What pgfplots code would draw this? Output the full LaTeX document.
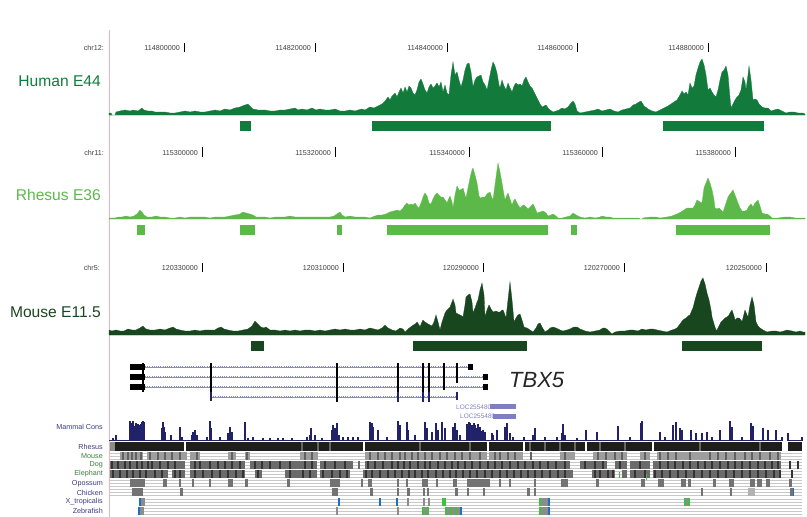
\documentclass[border=0pt]{standalone}
\usepackage{pgfplots}
\pgfplotsset{compat=1.18}
\usepackage{fontspec}
\setmainfont{Liberation Sans}
\definecolor{hum}{HTML}{127B3C}
\definecolor{rhe}{HTML}{5CB949}
\definecolor{mou}{HTML}{18461F}
\definecolor{navy}{HTML}{22226B}
\definecolor{lbl}{HTML}{3A3A80}
\definecolor{glbl}{HTML}{3C7F3C}
\definecolor{gline}{HTML}{8A8AC8}
\definecolor{locbox}{HTML}{8080C0}
\definecolor{pinkl}{HTML}{F0B4B4}
\definecolor{rowline}{HTML}{C8C8C8}
\definecolor{midg}{HTML}{8C8C8C}
\definecolor{darkg}{HTML}{333333}
\definecolor{blk}{HTML}{1E1E1E}
\definecolor{bluem}{HTML}{1F6FC0}
\definecolor{greenm}{HTML}{3FBF3F}
\begin{document}
\begin{tikzpicture}
\useasboundingbox (0,0) rectangle (807pt,517pt);
\begin{axis}[at={(0,0)}, anchor=south west, scale only axis, width=807pt, height=517pt,
  xmin=0, xmax=807, ymin=0, ymax=517, y dir=reverse,
  hide axis, clip=false, unbounded coords=jump]

% pink separator
\addplot[pinkl, line width=1pt] coordinates {(109,30)(109,517)};

% ---------- rulers ----------
\addplot[black, line width=1pt] coordinates {(184,43)(184,52)(184,nan)(315,43)(315,52)(315,nan)(447,43)(447,52)(447,nan)(577,43)(577,52)(577,nan)(708,43)(708,52)};
\addplot[black, line width=1pt] coordinates {(202,147)(202,157)(202,nan)(335,147)(335,157)(335,nan)(469,147)(469,157)(469,nan)(602,147)(602,157)(602,nan)(735,147)(735,157)};
\addplot[black, line width=1pt] coordinates {(202,263)(202,272)(202,nan)(343,263)(343,272)(343,nan)(483,263)(483,272)(483,nan)(624,263)(624,272)(624,nan)(766,263)(766,272)};

\begin{scope}[every node/.style={inner sep=0pt, anchor=east, font=\fontsize{7.2}{8}\selectfont, text=black!75}]
\node at (104,48) {chr12:};
\node at (180,48) {114800000};
\node at (311,48) {114820000};
\node at (443,48) {114840000};
\node at (573,48) {114860000};
\node at (704,48) {114880000};
\node at (104,153) {chr11:};
\node at (198,153) {115300000};
\node at (331,153) {115320000};
\node at (465,153) {115340000};
\node at (598,153) {115360000};
\node at (731,153) {115380000};
\node at (100,268) {chr5:};
\node at (198,268) {120330000};
\node at (339,268) {120310000};
\node at (479,268) {120290000};
\node at (620,268) {120270000};
\node at (762,268) {120250000};
\end{scope}

% ---------- track labels ----------
\begin{scope}[every node/.style={inner sep=0pt, anchor=east, font=\fontsize{15.6}{17}\selectfont}]
\node[text=hum] at (101,81) {Human E44};
\node[text=rhe] at (101,195) {Rhesus E36};
\node[text=mou] at (101,312) {Mouse E11.5};
\end{scope}

% ---------- Human E44 signal ----------
\addplot[fill=hum, draw=hum, line width=0.3pt] coordinates {
(109,115)(109,113)(111,113)(112,115)(115,115)(116,112)(120,111)(125,110)(130,111)(133,110)(138,111)(142,108)(144,110)(148,111)(152,111)(155,112)(160,112)(165,112)(170,113)(175,113)(180,112)(185,111)(190,112)(195,111)(200,112)(205,112)(210,111)(215,110)(220,111)(225,109)(230,110)(235,108)(240,107)(245,105)(248,104)(250,106)(253,109)(258,110)(265,110)(270,111)(275,111)(280,110)(285,110)(290,109)(295,108)(298,110)(302,109)(307,110)(312,108)(316,110)(320,109)(325,110)(330,110)(335,109)(340,111)(345,111)(350,110)(355,111)(358,110)(362,109)(365,110)(370,107)(374,108)(378,106)(382,104)(385,101)(388,97)(390,100)(392,96)(395,93)(397,97)(399,92)(401,88)(403,93)(405,87)(407,92)(409,86)(411,88)(413,93)(415,95)(417,90)(419,82)(421,79)(423,84)(425,90)(427,93)(429,87)(431,84)(433,88)(435,86)(437,83)(439,87)(441,82)(443,92)(445,85)(447,93)(449,95)(451,75)(453,62)(455,75)(457,72)(459,80)(461,87)(463,80)(465,70)(467,64)(469,63)(471,72)(473,87)(475,80)(477,77)(479,76)(481,75)(483,82)(485,85)(487,90)(489,80)(491,70)(493,62)(495,66)(497,73)(499,85)(500,88)(502,80)(504,86)(506,90)(508,83)(510,88)(512,92)(514,86)(516,83)(518,85)(520,84)(522,86)(524,80)(526,77)(528,82)(530,86)(532,88)(534,92)(536,96)(538,100)(540,104)(542,107)(544,106)(546,105)(548,108)(550,110)(553,112)(556,111)(559,110)(562,108)(565,109)(568,107)(571,103)(573,101)(575,104)(577,111)(580,113)(585,112)(590,111)(595,110)(598,109)(602,111)(606,110)(610,109)(614,111)(618,112)(622,110)(626,109)(630,108)(633,105)(636,104)(639,102)(641,101)(644,106)(648,109)(652,111)(656,112)(660,110)(664,108)(668,106)(671,104)(674,102)(677,100)(680,95)(682,91)(684,94)(686,92)(688,95)(690,83)(692,88)(694,86)(696,75)(698,68)(700,62)(702,59)(704,65)(706,75)(708,90)(710,88)(712,92)(714,95)(716,97)(718,90)(720,80)(722,72)(724,70)(726,66)(728,75)(730,98)(731,108)(733,104)(735,100)(737,97)(739,95)(741,90)(743,77)(745,82)(746,90)(748,75)(749,66)(751,80)(753,100)(755,99)(757,100)(759,104)(762,107)(765,108)(768,108)(771,111)(774,110)(778,109)(782,111)(786,113)(790,112)(794,112)(798,113)(803,113)(805,114)(805,115)} -- cycle;

\addplot[hum, line width=10pt] coordinates {(240,126)(251,126)(251,nan)(372,126)(551,126)(551,nan)(663,126)(764,126)};

% ---------- Rhesus E36 signal ----------
\addplot[fill=rhe, draw=rhe, line width=0.3pt] coordinates {
(109,219)(109,218)(115,218)(118,217)(122,217)(126,216)(130,217)(134,216)(137,214)(140,210)(142,212)(144,215)(147,217)(152,217)(156,216)(160,217)(165,217)(170,218)(175,218)(180,217)(185,218)(190,217)(195,217)(200,217)(205,217)(210,218)(215,217)(220,217)(225,217)(230,216)(235,215)(240,214)(243,212)(246,213)(250,214)(253,215)(256,217)(260,217)(265,217)(270,218)(275,217)(280,217)(285,217)(290,216)(295,217)(300,217)(305,217)(310,217)(315,217)(320,217)(325,217)(330,217)(334,216)(337,214)(340,212)(342,215)(345,217)(350,216)(355,217)(360,217)(365,217)(370,218)(375,216)(378,215)(382,215)(386,214)(390,212)(394,211)(397,210)(400,211)(403,208)(405,205)(407,203)(409,205)(411,204)(413,205)(415,203)(417,206)(419,208)(421,203)(423,197)(425,193)(427,196)(429,203)(431,204)(433,199)(435,195)(437,193)(439,195)(441,197)(443,197)(445,200)(447,203)(449,198)(450,196)(452,202)(453,208)(455,195)(457,186)(459,190)(460,190)(462,189)(463,188)(465,195)(466,198)(468,188)(470,178)(472,170)(473,168)(475,175)(477,183)(479,196)(480,198)(483,197)(485,197)(487,194)(490,192)(492,198)(493,200)(495,185)(497,170)(498,163)(500,172)(502,183)(504,195)(505,200)(507,195)(508,193)(510,199)(512,205)(514,200)(515,199)(517,203)(520,208)(522,206)(524,205)(526,207)(528,209)(531,206)(533,204)(535,208)(537,213)(540,212)(543,211)(546,213)(548,216)(551,215)(553,214)(556,216)(558,218)(562,218)(566,217)(570,216)(573,213)(576,215)(580,217)(585,218)(590,217)(595,218)(600,217)(602,216)(606,217)(610,217)(613,218)(620,218)(630,218)(639,218)(640,219)(642,219)(643,218)(650,217)(656,217)(660,218)(667,217)(672,216)(677,214)(681,212)(684,210)(687,208)(690,208)(693,208)(695,205)(697,200)(700,202)(702,203)(704,188)(706,183)(708,178)(710,183)(712,190)(714,200)(715,208)(717,209)(719,208)(721,210)(723,212)(725,206)(728,197)(730,194)(733,190)(735,195)(738,203)(740,208)(742,211)(745,211)(747,210)(749,206)(751,204)(753,207)(755,203)(758,200)(760,206)(762,213)(765,214)(767,214)(770,216)(772,218)(778,218)(785,217)(790,217)(795,218)(800,218)(805,218)(805,219)} -- cycle;

\addplot[rhe, line width=10pt] coordinates {(137,230)(145,230)(145,nan)(240,230)(255,230)(255,nan)(337,230)(342,230)(342,nan)(387,230)(548,230)(548,nan)(571,230)(577,230)(577,nan)(676,230)(770,230)};

% ---------- Mouse E11.5 signal ----------
\addplot[fill=mou, draw=mou, line width=0.3pt] coordinates {
(109,335)(109,330)(112,331)(116,330)(120,331)(124,331)(128,329)(132,330)(136,330)(140,328)(143,326)(146,329)(150,330)(155,330)(160,329)(165,330)(170,328)(173,327)(176,329)(180,330)(185,331)(190,331)(195,330)(200,331)(205,330)(210,330)(215,330)(218,328)(221,327)(224,329)(228,330)(233,331)(238,331)(243,330)(248,329)(252,326)(255,321)(258,324)(261,327)(264,328)(266,327)(270,330)(275,330)(280,331)(285,330)(290,331)(295,330)(300,331)(305,330)(310,330)(315,331)(320,330)(325,331)(330,330)(335,329)(340,330)(345,329)(350,330)(355,330)(360,329)(365,330)(370,328)(374,329)(378,330)(382,328)(385,325)(388,328)(392,330)(396,331)(400,328)(403,329)(405,332)(408,329)(412,326)(415,324)(417,322)(419,325)(420,327)(422,322)(423,320)(425,322)(428,324)(430,325)(432,326)(434,322)(436,315)(438,322)(440,330)(442,322)(445,313)(447,310)(450,307)(452,302)(453,299)(455,305)(456,313)(458,314)(460,315)(462,316)(463,317)(465,305)(466,297)(468,295)(470,294)(472,302)(473,313)(475,308)(477,302)(478,300)(480,290)(482,283)(484,295)(485,317)(487,310)(489,305)(491,309)(493,312)(496,311)(498,312)(500,312)(502,310)(503,310)(505,315)(506,318)(508,300)(510,282)(512,300)(514,322)(516,318)(518,315)(520,314)(522,320)(524,327)(527,328)(530,330)(533,332)(536,328)(538,324)(540,323)(542,327)(545,332)(548,330)(550,328)(553,327)(556,328)(560,330)(563,331)(567,330)(570,329)(574,327)(577,327)(580,329)(585,331)(590,332)(595,331)(600,330)(603,328)(605,328)(608,330)(612,334)(615,332)(620,331)(625,331)(630,330)(633,330)(638,331)(642,329)(646,330)(650,329)(653,329)(657,330)(662,331)(667,332)(672,330)(675,329)(677,328)(680,324)(683,320)(686,318)(688,316)(690,315)(692,310)(693,308)(695,300)(697,293)(699,287)(701,281)(703,278)(705,284)(707,293)(709,300)(711,310)(712,317)(714,324)(716,330)(717,330)(719,326)(721,322)(723,320)(725,318)(727,317)(729,315)(730,313)(732,310)(734,316)(735,320)(737,318)(739,318)(741,320)(742,322)(744,314)(745,310)(747,315)(748,317)(750,305)(752,297)(754,305)(756,322)(758,326)(760,328)(763,330)(767,332)(772,331)(776,331)(780,332)(784,331)(787,330)(792,331)(796,332)(800,331)(803,332)(805,332)(805,335)} -- cycle;

\addplot[mou, line width=10pt] coordinates {(251,346)(264,346)(264,nan)(413,346)(527,346)(527,nan)(682,346)(762,346)};

% ---------- TBX5 gene ----------
\addplot[gline, line width=0.7pt] coordinates {(145,367)(470,367)(470,nan)(145,377)(485,377)(485,nan)(145,387)(485,387)(485,nan)(211,397)(458,397)};
\addplot[gline, line width=2pt, dash pattern=on 0.7pt off 1.5pt] coordinates {(145,367)(470,367)(470,nan)(145,377)(485,377)(485,nan)(145,387)(485,387)(485,nan)(211,397)(458,397)};
\addplot[black, line width=6pt] coordinates {(130,367)(145,367)(145,nan)(130,377)(145,377)(145,nan)(130,387)(145,387)(145,nan)(468,367)(473,367)(473,nan)(483,377)(488,377)(488,nan)(483,387)(488,387)};
\addplot[black, line width=2.5pt] coordinates {(143,363)(143,392)};
\addplot[black, line width=1.2pt] coordinates {(211,363)(211,392)(211,nan)(337,363)(337,402)(337,nan)(423,363)(423,392)(423,nan)(444,363)(444,390)};
\addplot[black, line width=2pt] coordinates {(398,363)(398,392)(398,nan)(429,363)(429,392)(429,nan)(457,363)(457,383)};
\addplot[navy, line width=2pt] coordinates {(211,392)(211,401)(211,nan)(398,392)(398,402)(398,nan)(423,392)(423,402)(423,nan)(429,392)(429,402)(429,nan)(457,392)(457,400)};
\node[inner sep=0pt, anchor=west, font=\fontsize{22}{24}\selectfont\itshape, text=black!85] at (509,380) {TBX5};

% LOC255480
\addplot[locbox, line width=5pt] coordinates {(490,406.8)(516,406.8)(516,nan)(493,416.5)(516,416.5)};
\begin{scope}[every node/.style={inner sep=0pt, anchor=west, font=\fontsize{6.5}{7}\selectfont, text=locbox}]
\node at (456,407) {LOC255480};
\node at (460,416.5) {LOC255480};
\end{scope}

% ---------- labels of conservation ----------
\begin{scope}[every node/.style={inner sep=0pt, anchor=east, font=\fontsize{7.2}{8}\selectfont}]
\node[text=lbl] at (103,427) {Mammal Cons};
\node[text=lbl] at (103,447) {Rhesus};
\node[text=glbl] at (103,456) {Mouse};
\node[text=glbl] at (103,465) {Dog};
\node[text=glbl] at (103,474) {Elephant};
\node[text=lbl] at (103,484) {Opossum};
\node[text=lbl] at (103,493) {Chicken};
\node[text=lbl] at (103,502) {X\_tropicalis};
\node[text=lbl] at (103,511) {Zebrafish};
\end{scope}

% ---------- Mammal Cons ----------
\addplot[navy, line width=1pt] coordinates {(109,440)(783,440)(783,nan)(787,440)(803,440)};
\addplot[navy, line width=1.1pt] coordinates {
(113,440)(113,438)(113,nan)(116,440)(116,435)(116,nan)(130,440)(130,421)(130,nan)(131,440)(131,423)(131,nan)(132,440)(132,425)(132,nan)(133,440)(133,421)(133,nan)(134,440)(134,428)(134,nan)(135,440)(135,426)(135,nan)(136,440)(136,423)(136,nan)(137,440)(137,430)(137,nan)(138,440)(138,424)(138,nan)(139,440)(139,425)(139,nan)(140,440)(140,428)(140,nan)(141,440)(141,424)(141,nan)(142,440)(142,422)(142,nan)(143,440)(143,421)(143,nan)(144,440)(144,422)(144,nan)
(162,440)(162,428)(162,nan)(163,440)(163,422)(163,nan)(164,440)(164,427)(164,nan)(165,440)(165,432)(165,nan)(171,440)(171,435)(171,nan)(180,440)(180,427)(180,nan)(182,440)(182,437)(182,nan)(192,440)(192,435)(192,nan)(193,440)(193,432)(193,nan)(195,440)(195,430)(195,nan)(197,440)(197,435)(197,nan)(207,440)(207,437)(207,nan)(210,440)(210,421)(210,nan)(211,440)(211,428)(211,nan)(220,440)(220,437)(220,nan)(228,440)(228,433)(228,nan)(230,440)(230,427)(230,nan)(232,440)(232,432)(232,nan)(245,440)(245,422)(245,nan)(248,440)(248,438)(248,nan)(253,440)(253,437)(253,nan)(263,440)(263,438)(263,nan)(270,440)(270,438)(270,nan)(278,440)(278,438)(278,nan)(283,440)(283,438)(283,nan)(292,440)(292,438)(292,nan)
(307,440)(307,437)(307,nan)(310,440)(310,435)(310,nan)(311,440)(311,428)(311,nan)(315,440)(315,435)(315,nan)(322,440)(322,438)(322,nan)(332,440)(332,430)(332,nan)(333,440)(333,425)(333,nan)(335,440)(335,428)(335,nan)(337,440)(337,423)(337,nan)(339,440)(339,435)(339,nan)(343,440)(343,437)(343,nan)(348,440)(348,437)(348,nan)(353,440)(353,437)(353,nan)(358,440)(358,437)(358,nan)(370,440)(370,422)(370,nan)(372,440)(372,423)(372,nan)(373,440)(373,427)(373,nan)(378,440)(378,430)(378,nan)(387,440)(387,437)(387,nan)(398,440)(398,421)(398,nan)(400,440)(400,425)(400,nan)(407,440)(407,422)(407,nan)(408,440)(408,430)(408,nan)(415,440)(415,435)(415,nan)(425,440)(425,422)(425,nan)(427,440)(427,428)(427,nan)(432,440)(432,432)(432,nan)(436,440)(436,423)(436,nan)(438,440)(438,430)(438,nan)(442,440)(442,422)(442,nan)(445,440)(445,428)(445,nan)(453,440)(453,427)(453,nan)(455,440)(455,423)(455,nan)(457,440)(457,430)(457,nan)(460,440)(460,435)(460,nan)
(467,440)(467,424)(467,nan)(468,440)(468,427)(468,nan)(469,440)(469,422)(469,nan)(470,440)(470,423)(470,nan)(471,440)(471,426)(471,nan)(472,440)(472,425)(472,nan)(473,440)(473,428)(473,nan)(474,440)(474,423)(474,nan)(475,440)(475,425)(475,nan)(476,440)(476,430)(476,nan)(477,440)(477,428)(477,nan)(478,440)(478,424)(478,nan)(480,440)(480,427)(480,nan)(482,440)(482,431)(482,nan)(483,440)(483,430)(483,nan)(485,440)(485,432)(485,nan)(492,440)(492,433)(492,nan)(493,440)(493,435)(493,nan)(497,440)(497,430)(497,nan)(505,440)(505,427)(505,nan)(507,440)(507,423)(507,nan)(510,440)(510,433)(510,nan)(513,440)(513,437)(513,nan)(524,440)(524,437)(524,nan)(533,440)(533,435)(533,nan)(535,440)(535,428)(535,nan)(545,440)(545,437)(545,nan)(557,440)(557,437)(557,nan)(562,440)(562,433)(562,nan)(563,440)(563,424)(563,nan)(565,440)(565,435)(565,nan)(577,440)(577,438)(577,nan)(586,440)(586,430)(586,nan)(597,440)(597,432)(597,nan)
(618,440)(618,426)(618,nan)(630,440)(630,437)(630,nan)(641,440)(641,423)(641,nan)(642,440)(642,421)(642,nan)(660,440)(660,432)(660,nan)(665,440)(665,437)(665,nan)(673,440)(673,425)(673,nan)(676,440)(676,422)(676,nan)(680,440)(680,428)(680,nan)(682,440)(682,430)(682,nan)(691,440)(691,430)(691,nan)(696,440)(696,433)(696,nan)(702,440)(702,433)(702,nan)(707,440)(707,432)(707,nan)(712,440)(712,437)(712,nan)(720,440)(720,430)(720,nan)(730,440)(730,421)(730,nan)(732,440)(732,427)(732,nan)(742,440)(742,437)(742,nan)(751,440)(751,423)(751,nan)(753,440)(753,426)(753,nan)(763,440)(763,428)(763,nan)(768,440)(768,430)(768,nan)(776,440)(776,430)(776,nan)(782,440)(782,437)(782,nan)(788,440)(788,433)(788,nan)(802,440)(802,437)};

% ---------- conservation rows: background lines ----------
\addplot[rowline, line width=0.6pt] coordinates {
(110,453)(802,453)(802,nan)(110,456)(802,456)(802,nan)(110,459)(802,459)(802,nan)
(110,462)(802,462)(802,nan)(110,465)(802,465)(802,nan)(110,468)(802,468)(802,nan)
(110,471)(802,471)(802,nan)(110,474)(802,474)(802,nan)(110,477)(802,477)(802,nan)
(110,480)(802,480)(802,nan)(110,483)(802,483)(802,nan)(110,486)(802,486)(802,nan)
(110,489)(802,489)(802,nan)(110,492)(802,492)(802,nan)(110,495)(802,495)(802,nan)
(140,499)(802,499)(802,nan)(140,502)(802,502)(802,nan)(140,505)(802,505)(802,nan)
(139,508)(802,508)(802,nan)(139,511)(802,511)(802,nan)(139,514)(802,514)};

% Rhesus row
\addplot[midg, line width=9pt] coordinates {(110,446.5)(115,446.5)};
\addplot[blk, line width=9pt] coordinates {(115,446.5)(184,446.5)(184,nan)(186,446.5)(363,446.5)(363,nan)(365,446.5)(487,446.5)(487,nan)(489,446.5)(523,446.5)(523,nan)(525,446.5)(585,446.5)(585,nan)(587,446.5)(652,446.5)(652,nan)(654,446.5)(782,446.5)(782,nan)(788,446.5)(802,446.5)};
\addplot[only marks, mark=|, mark size=4.5pt, mark options={line width=1.2pt, color=black!60}] coordinates {(302,446.5)(318,446.5)(330,446.5)(420,446.5)(470,446.5)(530,446.5)(545,446.5)(560,446.5)(575,446.5)(600,446.5)(625,446.5)(700,446.5)(760,446.5)};

% Mouse row
\addplot[black!38, line width=8pt] coordinates {(120,456)(143,456)(143,nan)(147,456)(187,456)(187,nan)(190,456)(200,456)(200,nan)(228,456)(236,456)(236,nan)(245,456)(250,456)(250,nan)(300,456)(318,456)(318,nan)(365,456)(487,456)(487,nan)(489,456)(523,456)(523,nan)(560,456)(575,456)(575,nan)(593,456)(627,456)(627,nan)(640,456)(650,456)(650,nan)(657,456)(781,456)};
\addplot[only marks, mark=|, mark size=4pt, mark options={line width=1.1pt, color=black!62}] coordinates {(123,456)(128,456)(132,456)(136,456)(141,456)(150,456)(158,456)(165,456)(172,456)(180,456)(197,456)(232,456)(247,456)(305,456)(312,456)(370,456)(378,456)(385,456)(392,456)(400,456)(405,456)(412,456)(418,456)(425,456)(432,456)(440,456)(447,456)(455,456)(462,456)(470,456)(480,456)(495,456)(500,456)(508,456)(515,456)(531,456)(565,456)(598,456)(606,456)(615,456)(622,456)(645,456)(660,456)(668,456)(676,456)(690,456)(710,456)(718,456)(726,456)(735,456)(745,456)(752,456)(760,456)(770,456)(778,456)};

% Dog row
\addplot[black!58, line width=8pt] coordinates {(110,465)(185,465)(185,nan)(190,465)(245,465)(245,nan)(250,465)(317,465)(317,nan)(320,465)(353,465)(353,nan)(358,465)(360,465)(360,nan)(365,465)(570,465)(570,nan)(580,465)(607,465)(607,nan)(615,465)(627,465)(627,nan)(630,465)(650,465)(650,nan)(653,465)(781,465)};
\addplot[only marks, mark=|, mark size=4pt, mark options={line width=1.2pt, color=darkg}] coordinates {(112,465)(118,465)(125,465)(130,465)(137,465)(142,465)(148,465)(152,465)(160,465)(168,465)(175,465)(195,465)(200,465)(210,465)(218,465)(225,465)(232,465)(240,465)(255,465)(262,465)(270,465)(280,465)(290,465)(305,465)(312,465)(325,465)(335,465)(345,465)(368,465)(375,465)(383,465)(392,465)(398,465)(404,465)(410,465)(418,465)(425,465)(430,465)(438,465)(445,465)(452,465)(458,465)(465,465)(472,465)(480,465)(488,465)(495,465)(502,465)(510,465)(518,465)(525,465)(533,465)(540,465)(548,465)(556,465)(565,465)(585,465)(595,465)(603,465)(620,465)(640,465)(660,465)(668,465)(675,465)(683,465)(690,465)(698,465)(705,465)(712,465)(720,465)(728,465)(735,465)(742,465)(750,465)(758,465)(765,465)(772,465)(778,465)(790,465)(798,465)};

% Elephant row
\addplot[black!58, line width=8pt] coordinates {(110,473.5)(168,473.5)(168,nan)(172,473.5)(185,473.5)(185,nan)(190,473.5)(245,473.5)(245,nan)(255,473.5)(262,473.5)(262,nan)(285,473.5)(317,473.5)(317,nan)(320,473.5)(350,473.5)(350,nan)(363,473.5)(573,473.5)(573,nan)(592,473.5)(615,473.5)(615,nan)(622,473.5)(627,473.5)(627,nan)(630,473.5)(650,473.5)(650,nan)(653,473.5)(781,473.5)};
\addplot[only marks, mark=|, mark size=4pt, mark options={line width=1.2pt, color=darkg}] coordinates {(113,473.5)(120,473.5)(127,473.5)(133,473.5)(140,473.5)(146,473.5)(155,473.5)(162,473.5)(175,473.5)(180,473.5)(195,473.5)(203,473.5)(212,473.5)(220,473.5)(228,473.5)(236,473.5)(243,473.5)(258,473.5)(290,473.5)(303,473.5)(310,473.5)(323,473.5)(332,473.5)(340,473.5)(347,473.5)(366,473.5)(372,473.5)(380,473.5)(388,473.5)(395,473.5)(402,473.5)(409,473.5)(415,473.5)(422,473.5)(428,473.5)(436,473.5)(443,473.5)(450,473.5)(456,473.5)(463,473.5)(470,473.5)(477,473.5)(485,473.5)(492,473.5)(500,473.5)(507,473.5)(514,473.5)(521,473.5)(528,473.5)(535,473.5)(542,473.5)(550,473.5)(558,473.5)(565,473.5)(595,473.5)(600,473.5)(608,473.5)(613,473.5)(635,473.5)(645,473.5)(655,473.5)(662,473.5)(670,473.5)(678,473.5)(686,473.5)(694,473.5)(702,473.5)(710,473.5)(718,473.5)(726,473.5)(734,473.5)(742,473.5)(750,473.5)(758,473.5)(766,473.5)(774,473.5)(780,473.5)(792,473.5)};
\addplot[only marks, mark=|, mark size=3pt, mark options={line width=1pt, color=greenm}] coordinates {(619,475)(646,477)};

% Opossum row
\addplot[black!55, line width=8pt] coordinates {(130,483)(145,483)(145,nan)(163,483)(167,483)(167,nan)(179,483)(181,483)(181,nan)(192,483)(194,483)(194,nan)(209,483)(211,483)(211,nan)(228,483)(233,483)(233,nan)(245,483)(248,483)(248,nan)(287,483)(290,483)(290,nan)(330,483)(340,483)(340,nan)(361,483)(363,483)(363,nan)(368,483)(372,483)(372,nan)(397,483)(399,483)(399,nan)(406,483)(408,483)(408,nan)(422,483)(428,483)(428,nan)(436,483)(438,483)(438,nan)(453,483)(457,483)(457,nan)(467,483)(490,483)(490,nan)(499,483)(501,483)(501,nan)(509,483)(511,483)(511,nan)(534,483)(536,483)(536,nan)(561,483)(568,483)(568,nan)(596,483)(599,483)(599,nan)(641,483)(645,483)(645,nan)(658,483)(664,483)(664,nan)(681,483)(686,483)(686,nan)(688,483)(691,483)(691,nan)(713,483)(716,483)(716,nan)(729,483)(734,483)(734,nan)(750,483)(755,483)(755,nan)(757,483)(762,483)(762,nan)(766,483)(770,483)(770,nan)(789,483)(792,483)};

% Chicken row
\addplot[black!55, line width=8pt] coordinates {(132,492)(143,492)(143,nan)(180,492)(183,492)(183,nan)(332,492)(338,492)(338,nan)(370,492)(373,492)(373,nan)(397,492)(399,492)(399,nan)(407,492)(410,492)(410,nan)(423,492)(425,492)(425,nan)(427,492)(429,492)(429,nan)(455,492)(458,492)(458,nan)(467,492)(469,492)(469,nan)(483,492)(485,492)(485,nan)(527,492)(530,492)(530,nan)(534,492)(536,492)(536,nan)(701,492)(703,492)(703,nan)(730,492)(732,492)(732,nan)(790,492)(793,492)};
\addplot[black!30, line width=8pt] coordinates {(748,492)(755,492)};
\addplot[only marks, mark=|, mark size=4pt, mark options={line width=1pt, color=bluem}] coordinates {(793,492)};

% X_tropicalis row
\addplot[black!45, line width=8pt] coordinates {(141,502)(145,502)(145,nan)(407,502)(409,502)(409,nan)(423,502)(425,502)(425,nan)(428,502)(430,502)(430,nan)(540,502)(550,502)(550,nan)(685,502)(689,502)};
\addplot[only marks, mark=|, mark size=4pt, mark options={line width=1.1pt, color=bluem}] coordinates {(140,502)(339,502)(380,502)(397,502)(549,502)};
\addplot[only marks, mark=|, mark size=4pt, mark options={line width=1.1pt, color=greenm}] coordinates {(443,502)(445,502)(540,502)(685,502)(689,502)};

% Zebrafish row
\addplot[black!45, line width=8pt] coordinates {(140,511)(144,511)(144,nan)(336,511)(338,511)(338,nan)(397,511)(399,511)(399,nan)(423,511)(428,511)(428,nan)(445,511)(462,511)(462,nan)(540,511)(549,511)};
\addplot[only marks, mark=|, mark size=4pt, mark options={line width=1.1pt, color=bluem}] coordinates {(139,511)(461,511)(549,511)};
\addplot[only marks, mark=|, mark size=4pt, mark options={line width=1.1pt, color=greenm}] coordinates {(423,511)(428,511)(446,511)(451,511)(456,511)(540,511)};

\end{axis}
\end{tikzpicture}
\end{document}
